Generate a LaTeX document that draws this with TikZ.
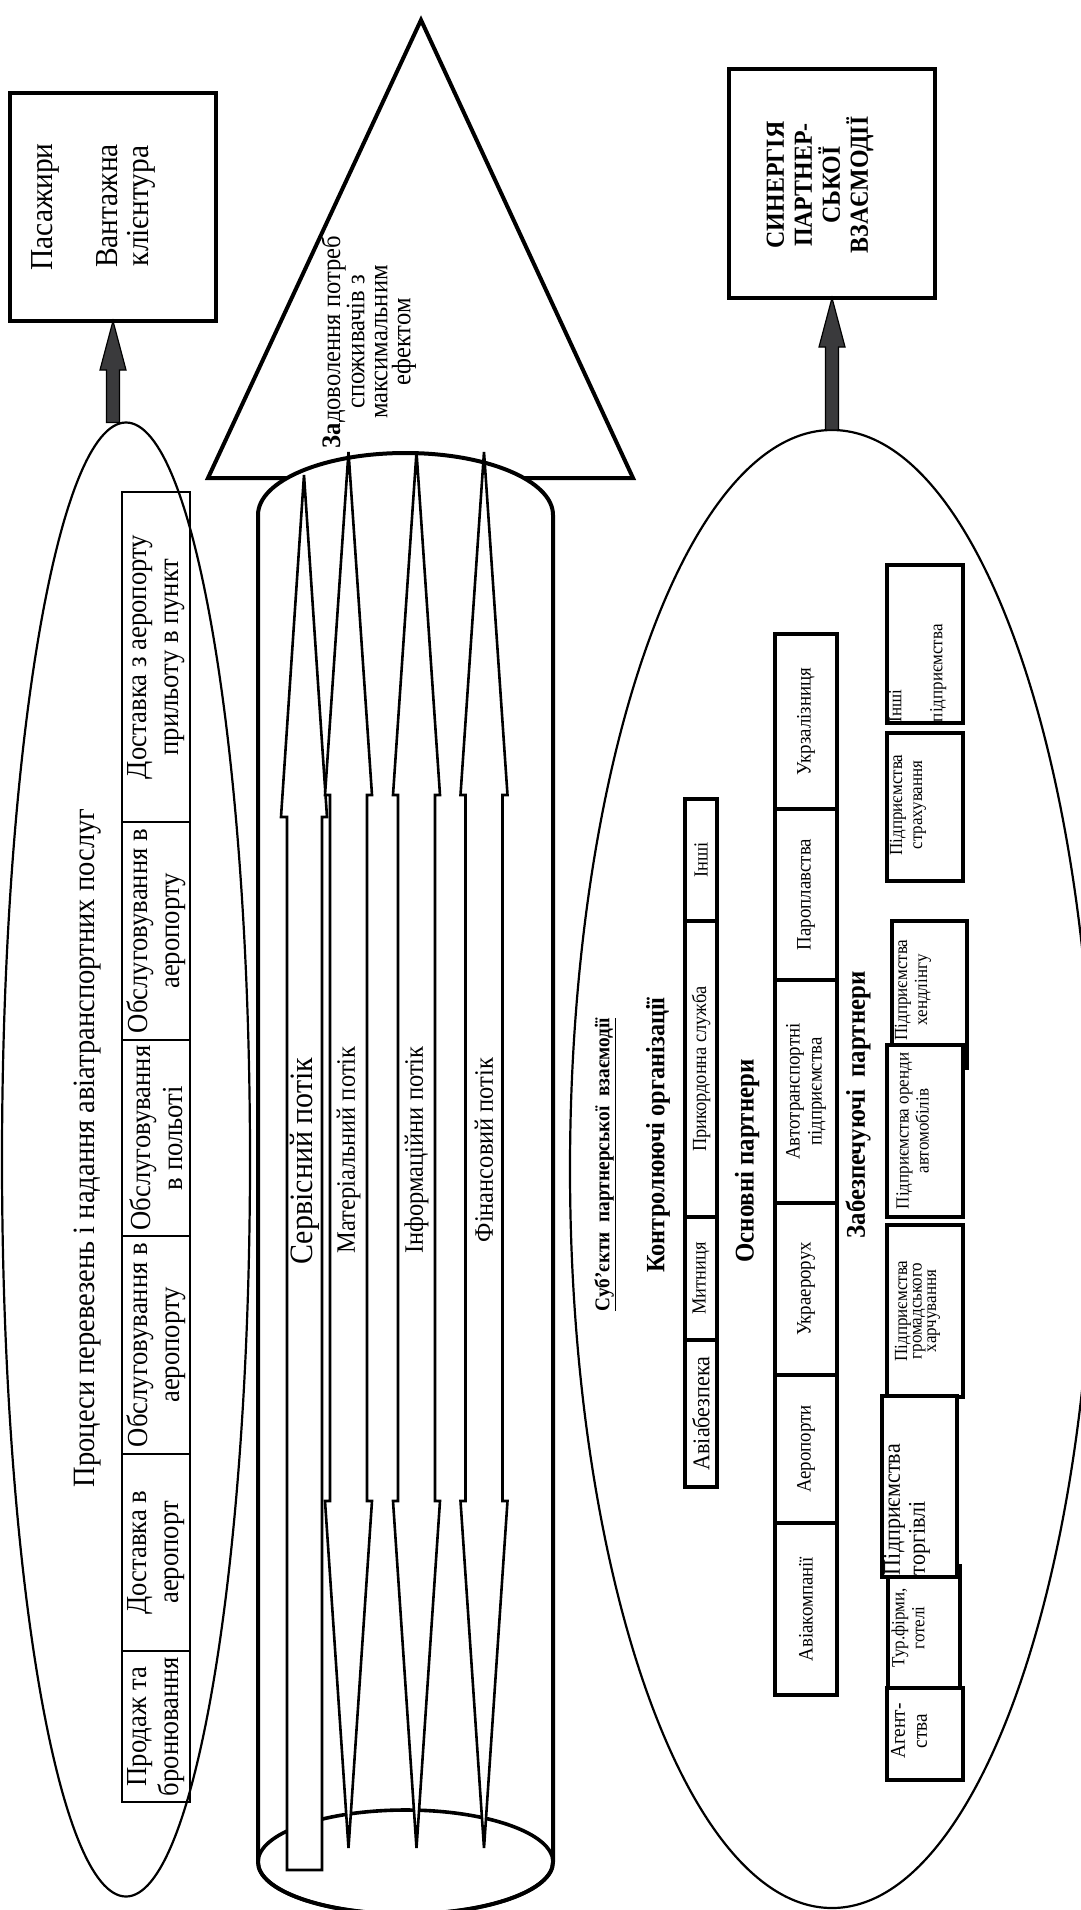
\documentclass[tikz,border=0pt]{standalone}
\usepackage{fontspec}
\setmainfont{Liberation Serif}[FakeStretch=0.92]
\usetikzlibrary{shapes.geometric,calc}
\definecolor{arrowfill}{HTML}{3A3A3C}
\newcommand{\fsz}[2]{\fontsize{#1}{#2}\selectfont}
\newcommand{\fatarrow}[2]{%
  \filldraw[fill=arrowfill, draw=black, line width=1.2pt]
  let \p1=(#1.south), \p2=(#2.north) in
  (\x1-6.5pt,\y2) -- (\x1-6.5pt,\y1-49pt) -- (\x1-13pt,\y1-49pt) -- (\x1,\y1)
  -- (\x1+13pt,\y1-49pt) -- (\x1+6.5pt,\y1-49pt) -- (\x1+6.5pt,\y2) -- cycle;}
\begin{document}
\begin{tikzpicture}[x=1pt,y=-1pt,
  rt/.style={rotate=90, inner sep=0pt, outer sep=0pt, align=center},
  lcell/.style={draw, line width=2.7pt, rotate=90, inner sep=0pt, outer sep=0pt, align=center, minimum height=68pt, font=\fsz{29}{32}},
  mcell/.style={draw, line width=3.2pt, rotate=90, inner sep=0pt, outer sep=0pt, align=center, minimum height=62pt, font=\fsz{20.5}{22}},
  kcell/.style={draw, line width=3.2pt, rotate=90, inner sep=0pt, outer sep=0pt, align=center, minimum height=32pt, font=\fsz{20}{22}},
  sbox/.style={draw, fill=white, line width=3.6pt, inner sep=0pt, outer sep=0pt},
  stext/.style={rt, font=\fsz{18.5}{20}},
  bigbox/.style={draw, fill=white, line width=4.8pt, inner sep=0pt, outer sep=0pt},
  ell/.style={ellipse, draw, line width=2.2pt, inner sep=0pt, outer sep=0pt},
  flow/.style={draw, fill=white, line width=2.6pt},
]
\useasboundingbox (0,0) rectangle (1080,1910);
\fill[white] (0,0) rectangle (1080,1910);

% ---------- left group ----------
\node[bigbox, minimum width=206pt, minimum height=228pt] (lbox) at (113,207) {};
\node[rt, font=\fsz{32}{31}] (pas) at (45,207) {Пасажири};
\node[rt, font=\fsz{32}{31}] (vant) at (125.5,206) {Вантажна\\клієнтура};

\node[ell, minimum width=248pt, minimum height=1474pt] (lell) at (126,1159.5) {};
\fatarrow{lbox}{lell}

\node[rt, font=\fsz{31}{33}] (title) at (88,1148) {Процеси перевезень і надання авіатранспортних послуг};

\node[lcell, minimum width=330pt] (c1) at (156,657) {Доставка з аеропорту\\прильоту в пункт};
\node[lcell, minimum width=218pt] (c2) at (156,931) {Обслуговування в\\аеропорту};
\node[lcell, minimum width=196pt] (c3) at (156,1138) {Обслуговування\\в польоті};
\node[lcell, minimum width=218pt] (c4) at (156,1345) {Обслуговування в\\аеропорту};
\node[lcell, minimum width=197pt] (c5) at (156,1552.5) {Доставка в\\аеропорт};
\node[lcell, minimum width=151pt] (c6) at (156,1726.5) {Продаж та\\бронювання};

% ---------- middle group ----------
\draw[line width=4pt] (421,20) -- (633,478) -- (208,478) -- cycle;
\node[rt, font=\fsz{26.7}{23}] (goal) at (368.5,342) {\textbf{За}доволення потреб\\споживачів з\\максимальним\\ефектом};

\path[draw, fill=white, line width=4pt] (258,1862) -- (258,515)
  arc[start angle=180, end angle=0, x radius=147.5pt, y radius=62pt]
  -- (553,1862)
  arc[start angle=0, end angle=-180, x radius=147.5pt, y radius=52pt] -- cycle;
\draw[line width=3.6pt] (405.5,1862) ellipse[x radius=147.5pt, y radius=52pt];

\draw[flow] (304,475) -- (327,817) -- (322,817) -- (322,1870) -- (287,1870) -- (287,817) -- (281,817) -- cycle;
\foreach \cx in {348.5,416.5,484} {
  \draw[flow] (\cx,452) -- (\cx+23.5,795) -- (\cx+18.5,795) -- (\cx+18.5,1501) -- (\cx+23.5,1501)
    -- (\cx,1848) -- (\cx-23.5,1501) -- (\cx-18.5,1501) -- (\cx-18.5,795) -- (\cx-23.5,795) -- cycle;
}
\node[rt, font=\fsz{32.6}{34}] (serv) at (304.5,1161) {Сервісний потік};
\node[rt, font=\fsz{26.6}{28}] (mat) at (348.5,1150) {Матеріальний потік};
\node[rt, font=\fsz{26.6}{28}] (inf) at (416.5,1150) {Інформаційни потік};
\node[rt, font=\fsz{26.6}{28}] (fin) at (484,1150) {Фінансовий потік};

% ---------- right group ----------
\node[bigbox, minimum width=206pt, minimum height=229pt] (rbox) at (832,183.5) {};
\node[rt, font=\bfseries\fsz{26}{28}] (syn) at (820,185) {СИНЕРГІЯ\\ПАРТНЕР-\\СЬКОЇ\\ВЗАЄМОДІЇ};

\node[ell, minimum width=524pt, minimum height=1478pt] (rell) at (832,1169) {};
\fatarrow{rbox}{rell}

\node[rt, font=\bfseries\fsz{21}{23}] (subj) at (605,1164.5) {\underline{Суб’єкти\ \ партнерської\ \ взаємодії}};
\node[rt, font=\bfseries\fsz{26.4}{28}] (kontr) at (658,1135) {Контролюючі організації};
\node[rt, font=\bfseries\fsz{27}{29}] (osn) at (747,1161) {Основні партнери};
\node[rt, font=\bfseries\fsz{27}{29}] (zab) at (858,1105) {Забезпечуючі\ \ партнери};

\node[kcell, minimum width=122pt] (k1) at (701,860) {Інші};
\node[kcell, minimum width=296pt] (k2) at (701,1069) {Прикордонна служба};
\node[kcell, minimum width=123pt] (k3) at (701,1278.5) {Митниця};
\node[kcell, minimum width=147pt, font=\fsz{24}{26}] (k4) at (701,1413.5) {Авіабезпека};

\node[mcell, minimum width=175pt] (m1) at (806,721.5) {Укрзалізниця};
\node[mcell, minimum width=171pt] (m2) at (806,894.5) {Пароплавства};
\node[mcell, minimum width=223pt] (m3) at (806,1091.5) {Автотранспортні\\підприємства};
\node[mcell, minimum width=172pt] (m4) at (806,1289) {Украерорух};
\node[mcell, minimum width=148pt] (m5) at (806,1449) {Аеропорти};
\node[mcell, minimum width=172pt] (m6) at (806,1609) {Авіакомпанії};

\node[sbox, minimum width=76pt, minimum height=158pt] (s1) at (925,644) {};
\node[stext, anchor=north west, align=left] (t1) at (889,722) {Інші\\[21pt]підприємства};
\node[sbox, minimum width=76pt, minimum height=148pt] (s2) at (925,807) {};
\node[stext] (t2) at (908,805) {Підприємства\\страхування};
\node[sbox, minimum width=75pt, minimum height=147pt] (s3) at (929.5,994.5) {};
\node[stext] (t3) at (913,990) {Підприємства\\хендлінгу};
\node[sbox, minimum width=76pt, minimum height=172pt] (s4) at (925,1131) {};
\node[stext] (t4) at (912.5,1131) {Підприємства оренди\\автомобілів};
\node[sbox, minimum width=76pt, minimum height=172pt] (s5) at (925,1311) {};
\node[rt, font=\fsz{18.5}{14.5}] (t5) at (917.5,1311) {Підприємства\\громадського\\харчування};
\node[sbox, minimum width=72pt, minimum height=122pt] (s6) at (924,1627) {};
\node[stext] (t6) at (908,1628) {Тур.фірми,\\готелі};
\node[sbox, minimum width=75pt, minimum height=181pt] (s7) at (919.5,1486.5) {};
\node[rt, anchor=north west, align=left, font=\fsz{24}{25}] (t7) at (884,1575) {Підприємства\\торгівлі};
\node[sbox, minimum width=76pt, minimum height=92pt] (s8) at (925,1734) {};
\node[rt, font=\fsz{21}{22}] (t8) at (909,1731) {Агент-\\ства};
\end{tikzpicture}
\end{document}
